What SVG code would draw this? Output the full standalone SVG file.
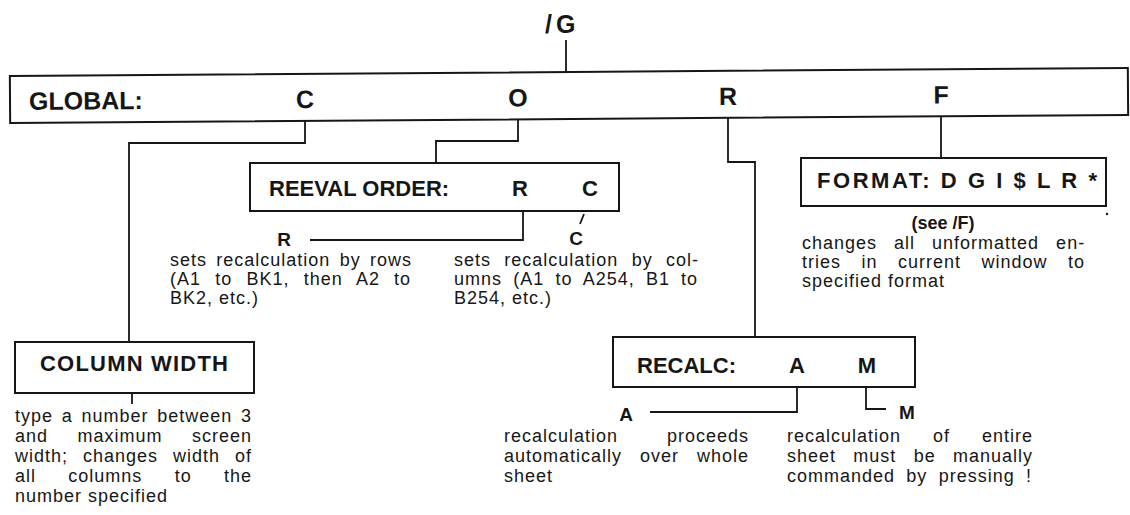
<svg xmlns="http://www.w3.org/2000/svg" width="1130" height="515" viewBox="0 0 1130 515">
<style>
.bg{fill:#fff}
.box{fill:none;stroke:#161616;stroke-width:2}
.wire{fill:none;stroke:#161616;stroke-width:1.8}
.lbl{font-family:"Liberation Sans",Arial,sans-serif;font-weight:bold;font-size:22px;fill:#161616}
.big{font-family:"Liberation Sans",Arial,sans-serif;font-weight:bold;font-size:25px;fill:#161616}
.key{font-family:"Liberation Sans",Arial,sans-serif;font-weight:bold;font-size:19px;fill:#161616}
.body{font-family:"Liberation Sans",Arial,sans-serif;font-size:18px;letter-spacing:1px;fill:#161616}
.see{font-family:"Liberation Sans",Arial,sans-serif;font-weight:bold;font-size:18px;fill:#161616}
.mid{text-anchor:middle}
</style>
<rect class="bg" x="0" y="0" width="1130" height="515"/>

<g id="title">
  <text class="big" x="545" y="33" letter-spacing="4">/G</text>
</g>

<g id="global" transform="rotate(-0.41 569 96)">
  <rect class="box" x="10" y="72" width="1118" height="47"/>
  <text class="big" x="29" y="106">GLOBAL:</text>
  <text class="big mid" x="305" y="106">C</text>
  <text class="big mid" x="518" y="106">O</text>
  <text class="big mid" x="728" y="106">R</text>
  <text class="big mid" x="941" y="106">F</text>
</g>

<g id="connectors">
  <path class="wire" d="M566,40 V72"/>
  <path class="wire" d="M305,121 V143 H129 V342"/>
  <path class="wire" d="M518,119.4 V141 H436 V163"/>
  <path class="wire" d="M728,118 V162 H755 V337"/>
  <path class="wire" d="M941,116.3 V158"/>
  <path class="wire" d="M523,211 V240 H310"/>
  <path class="wire" d="M584,214 L580,224"/>
  <path class="wire" d="M132,393 V404"/>
  <path class="wire" d="M797,387 V412 H650"/>
  <path class="wire" d="M866,387 V409 H886"/>
</g>

<g id="reeval">
  <rect class="box" x="250" y="163" width="369" height="48"/>
  <text class="lbl" x="269" y="196">REEVAL ORDER:</text>
  <text class="lbl mid" x="520" y="196">R</text>
  <text class="lbl mid" x="590" y="196">C</text>
</g>

<g id="reeval-r">
  <text class="key mid" x="284" y="246">R</text>
  <text class="body" x="170" y="266" word-spacing="3.3">sets recalculation by rows</text>
  <text class="body" x="170" y="285" word-spacing="8.2">(A1 to BK1, then A2 to</text>
  <text class="body" x="170" y="304">BK2, etc.)</text>
</g>

<g id="reeval-c">
  <text class="key mid" x="576" y="245">C</text>
  <text class="body" x="454" y="266" word-spacing="7.3">sets recalculation by col-</text>
  <text class="body" x="454" y="285" word-spacing="5.2">umns (A1 to A254, B1 to</text>
  <text class="body" x="454" y="304">B254, etc.)</text>
</g>

<g id="format">
  <rect class="box" x="801" y="158" width="305" height="48"/>
  <text class="lbl" x="817" y="188" textLength="280" lengthAdjust="spacing">FORMAT: D G I $ L R *</text>
  <circle cx="1107" cy="214" r="1.2" fill="#161616"/>
  <text class="see mid" x="943" y="229">(see /F)</text>
  <text class="body" x="802" y="249" word-spacing="11">changes all unformatted en-</text>
  <text class="body" x="802" y="268" word-spacing="14.5">tries in current window to</text>
  <text class="body" x="802" y="287">specified format</text>
</g>

<g id="column-width">
  <rect class="box" x="15" y="342" width="239" height="51"/>
  <text class="lbl mid" x="134" y="371" textLength="188" lengthAdjust="spacing">COLUMN WIDTH</text>
  <text class="body" x="15" y="422" word-spacing="2.7">type a number between 3</text>
  <text class="body" x="15" y="442" word-spacing="23.5">and maximum screen</text>
  <text class="body" x="15" y="462" word-spacing="9">width; changes width of</text>
  <text class="body" x="15" y="482" word-spacing="26.3">all columns to the</text>
  <text class="body" x="15" y="502">number specified</text>
</g>

<g id="recalc">
  <rect class="box" x="613" y="337" width="302" height="50"/>
  <text class="lbl" x="637" y="373">RECALC:</text>
  <text class="lbl mid" x="797" y="373">A</text>
  <text class="lbl mid" x="867" y="373">M</text>
</g>

<g id="recalc-a">
  <text class="key mid" x="626" y="421">A</text>
  <text class="body" x="504" y="442" word-spacing="43">recalculation proceeds</text>
  <text class="body" x="504" y="462" word-spacing="12">automatically over whole</text>
  <text class="body" x="504" y="482">sheet</text>
</g>

<g id="recalc-m">
  <text class="key mid" x="907" y="419">M</text>
  <text class="body" x="787" y="442" word-spacing="26">recalculation of entire</text>
  <text class="body" x="787" y="462" word-spacing="11.3">sheet must be manually</text>
  <text class="body" x="787" y="482" word-spacing="5.3">commanded by pressing !</text>
</g>
</svg>
